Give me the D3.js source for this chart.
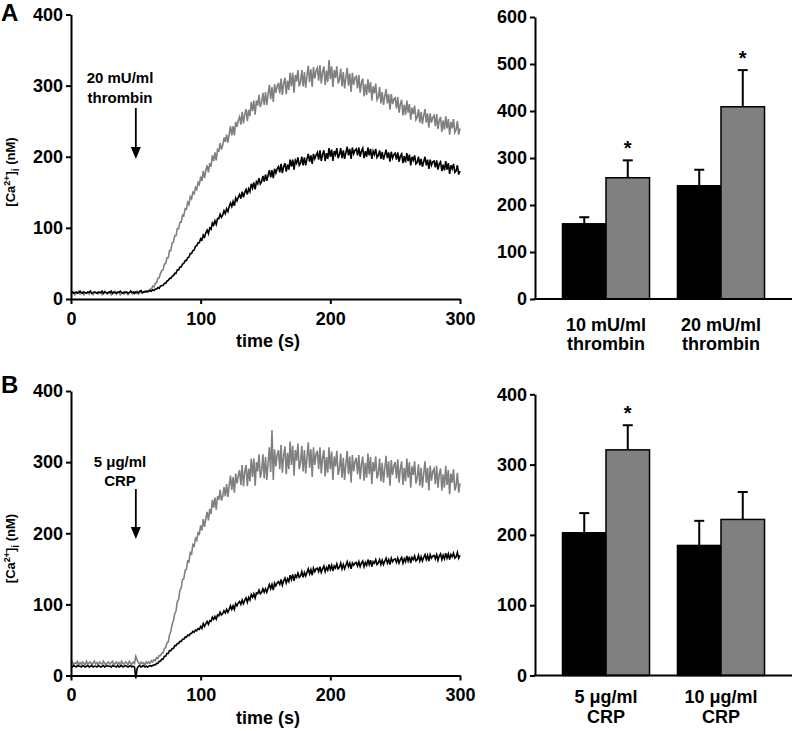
<!DOCTYPE html>
<html lang="en">
<head>
<meta charset="UTF-8">
<title>Ca2+ traces</title>
<script src="https://cdn.jsdelivr.net/npm/d3@7"></script>
<style>
  body { margin: 0; background: #fff; }
  text { font-family: "Liberation Sans", Arial, sans-serif; font-weight: bold; }
</style>
</head>
<body>
<div id="grafica"></div>
<script>
// sample times of the traces (s), one reading per second
times = d3.range(0, 301)

// panel A, 20 mU/ml thrombin (nM)
grayA = [7,9,10,6,8,9,11,7,8,10, 6,9,8,10,7,11,8,6,9,10, 8,7,10,9,6,8,11,9,7,8,
  10,6,9,8,11,7,9,10,6,8, 9,7,10,8,6,9,11,8,7,10, 8,11,7,9,10,8,9,11,10,12,
  11,14,14,18,17,22,23,29,30,36, 40,41,49,50,58,58,68,68,79,80, 89,89,99,99,108,108,118,117,127,126,
  136,133,144,141,150,148,157,154,164,161, 172,166,180,170,181,188,178,191,186,202,
  194,206,195,210,208,219,210,216,227,221, 231,220,232,243,230,243,230,249,242,251,
  256,245,263,247,260,267,250,266,257,277, 264,279,259,279,272,287,270,276,290,273,
  291,273,288,301,281,298,277,302,290,299, 304,289,310,287,303,311,288,307,294,318,
  299,318,290,315,306,322,299,305,322,299, 319,297,314,328,305,323,298,326,310,321,
  325,307,329,303,319,327,301,321,305,336, 309,327,298,322,311,327,303,308,324,299,
  319,296,311,325,300,317,291,318,301,311, 313,296,315,290,304,310,285,302,287,309,
  290,305,279,299,289,303,280,284,298,275, 291,273,285,295,275,288,266,288,274,281,
  283,268,284,262,274,280,258,273,259,279, 262,274,252,269,260,272,252,256,267,248,
  263,246,258,267,248,261,241,261,248,255, 258,243,260,239,251,256,235,251,238,257,
  240,253,231,249,240,253,234,238,250,231, 240]
blackA = [9,10,8,9,10,8,9,11,9,8, 10,9,8,10,9,11,8,9,10,9, 8,10,9,9,11,8,10,9,8,10,
  9,11,8,10,9,8,10,9,11,9, 8,10,9,10,8,9,11,9,10,8, 10,9,9,11,12,9,10,10,11,10,
  11,12,11,13,12,14,14,16,15,18, 19,19,22,22,25,26,29,29,32,33, 36,36,41,41,45,45,49,50,54,54,
  58,59,64,64,68,69,74,75,79,79, 85,83,90,87,93,97,92,100,98,107,
  104,110,105,113,113,119,115,118,124,120, 127,123,130,135,130,137,131,142,138,143,
  147,141,151,143,150,154,147,155,151,162, 156,164,154,165,162,170,162,165,173,165,
  175,166,174,181,171,181,170,183,177,183, 186,178,190,177,186,191,179,189,182,196,
  186,196,182,195,191,199,188,191,200,188, 199,188,197,204,193,202,190,204,197,202,
  206,196,209,194,203,209,194,205,197,212, 200,210,194,208,203,212,198,203,212,198,
  209,197,206,214,202,211,197,213,204,209, 211,202,213,200,208,212,198,208,200,213,
  202,211,197,208,203,211,199,202,209,197, 207,196,203,210,198,206,193,207,198,203,
  205,196,206,193,201,204,191,201,192,205, 194,203,188,200,195,202,190,192,200,188,
  197,186,193,200,188,196,183,196,188,193, 194,185,195,182,190,193,180,189,181,194,
  182,191,176,188,183,190,178,180,188,175, 180]

// panel B, 5 ug/ml CRP (nM)
grayB = [16,19,15,18,17,20,15,18,16,19, 17,15,20,16,18,19,15,17,20,16, 18,15,19,17,16,20,17,15,18,19,
  16,18,20,15,17,19,16,18,15,20, 17,16,19,18,15,20,17,16,19,17, 27,22,18,16,19,17,18,15,19,17,
  19,17,21,19,22,21,25,24,28,28, 31,32,38,39,46,47,57,62,72,77, 87,91,104,107,120,123,135,136,148,149,
  161,160,173,171,184,182,193,190,201,199, 211,204,220,209,221,230,218,234,227,247,
  236,250,233,252,247,261,246,252,265,252, 269,251,267,281,261,279,257,284,270,281,
  289,268,296,266,286,296,266,291,273,305, 279,305,267,300,287,311,278,287,311,277,
  307,275,299,321,286,345,275,318,294,310, 317,290,324,285,309,322,283,313,290,329,
  296,323,281,317,302,326,290,299,323,287, 317,284,307,328,292,318,279,321,296,311,
  316,290,321,284,306,317,280,307,285,321, 290,315,275,308,294,316,282,290,312,278,
  306,275,297,316,283,308,271,310,287,301, 306,283,310,276,297,308,274,299,278,312,
  283,307,269,300,287,308,277,284,305,273, 299,271,291,309,278,301,267,303,282,295,
  300,277,304,271,291,301,268,292,273,305, 278,300,264,294,282,301,270,278,297,267,
  292,264,284,301,271,292,260,295,274,287, 291,269,295,264,283,291,260,283,264,295,
  268,289,255,284,271,290,260,267,285,257, 270]
blackB = [13,12,14,13,12,14,13,13,12,14, 13,12,13,14,12,13,14,12,13,13, 12,14,13,12,13,14,12,13,14,13,
  13,12,14,13,13,12,14,12,13,14, 12,13,14,13,12,13,14,12,13,12, -4,10,13,14,12,13,14,12,13,12,
  13,14,13,14,15,15,17,17,20,20, 23,23,27,27,31,31,35,35,38,38, 42,42,45,45,48,48,51,51,54,54,
  57,56,59,59,62,61,64,63,66,65, 69,66,73,69,73,76,72,77,76,82,
  79,83,79,85,84,89,85,87,91,88, 93,89,93,98,93,98,93,101,98,102,
  104,100,106,101,106,109,103,110,106,114, 110,115,109,116,115,120,115,117,122,117,
  122,117,123,128,122,128,120,130,126,130, 132,128,135,127,133,137,130,136,132,141,
  135,142,133,141,138,144,138,140,146,138, 145,140,145,150,143,149,141,151,146,150,
  151,146,153,145,150,154,146,152,148,156, 149,155,147,154,151,157,150,152,158,150,
  156,150,155,160,153,158,150,158,155,158, 159,154,160,153,158,161,153,159,155,163,
  156,162,153,160,158,163,156,158,163,156, 162,156,161,165,158,163,156,165,160,163,
  164,159,165,158,163,166,158,164,160,168, 161,167,158,166,163,168,161,163,169,161,
  167,161,166,170,163,169,161,170,165,168, 169,164,170,162,168,171,163,169,164,172,
  165,171,163,170,167,172,165,167,173,165, 169]

// bar panels: mean and top of error bar (nM)
barCatsA  = [['10 mU/ml', 'thrombin'], ['20 mU/ml', 'thrombin']]
barBlackA = [160, 241]
barGrayA  = [258, 409]
errBlackA = [174, 275]
errGrayA  = [295, 487]
sigA      = [true, true]

barCatsB  = [['5 μg/ml', 'CRP'], ['10 μg/ml', 'CRP']]
barBlackB = [203, 185]
barGrayB  = [321, 222]
errBlackB = [231, 220]
errGrayB  = [356, 261]
sigB      = [true, false]

gris = '#808080'

svg = d3.select('#grafica')
  .append('svg')
  .attr('width', 793)
  .attr('height', 731)

function styleAxis(sel) {
  sel.selectAll('text').attr('font-size', 18).attr('fill', '#000')
  sel.selectAll('path, line').attr('stroke', '#000').attr('stroke-width', 2)
}

function trazas(p) {
  x = d3.scaleLinear().domain([0, 300]).range([71, 460])
  y = d3.scaleLinear().domain([0, 400]).range([p.y0, p.y0 - 284.5])

  linea = d3.line()
    .x((d, i) => x(times[i]))
    .y((d) => y(d))

  svg.append('path')
    .datum(p.gray)
    .attr('d', linea)
    .attr('fill', 'none')
    .attr('stroke', gris)
    .attr('stroke-width', 1.6)

  svg.append('path')
    .datum(p.black)
    .attr('d', linea)
    .attr('fill', 'none')
    .attr('stroke', '#000')
    .attr('stroke-width', 1.6)

  svg.append('g')
    .attr('transform', `translate(0, ${p.y0})`)
    .call(d3.axisBottom(x).tickValues([0, 100, 200, 300]).tickSize(5).tickSizeOuter(0).tickPadding(8))
    .call(styleAxis)

  svg.append('g')
    .attr('transform', 'translate(71, 0)')
    .call(d3.axisLeft(y).tickValues([0, 100, 200, 300, 400]).tickSize(5).tickSizeOuter(0).tickPadding(3))
    .call(styleAxis)

  svg.append('text')
    .attr('x', 268).attr('y', p.y0 + 48)
    .attr('text-anchor', 'middle')
    .attr('font-size', 18)
    .text('time (s)')

  // y label [Ca2+]i (nM)
  lab = svg.append('text')
    .attr('transform', `translate(15, ${p.y0 - 127}) rotate(-90)`)
    .attr('text-anchor', 'middle')
    .attr('font-size', 13)
  lab.append('tspan').text('[Ca')
  lab.append('tspan').attr('dy', -5).attr('font-size', 9).text('2+')
  lab.append('tspan').attr('dy', 5).text(']')
  lab.append('tspan').attr('dy', 4).attr('font-size', 10).text('i')
  lab.append('tspan').attr('dy', -4).text(' (nM)')

  // stimulus annotation and arrow
  p.nota.forEach((s, i) => {
    svg.append('text')
      .attr('x', 120).attr('y', p.notaY[i])
      .attr('text-anchor', 'middle')
      .attr('font-size', 15)
      .text(s)
  })
  svg.append('line')
    .attr('x1', x(50)).attr('x2', x(50))
    .attr('y1', p.flecha[0]).attr('y2', p.flecha[1] - 10)
    .attr('stroke', '#000').attr('stroke-width', 1.8)
  svg.append('path')
    .attr('d', `M${x(50) - 5},${p.flecha[1] - 12}L${x(50) + 5},${p.flecha[1] - 12}L${x(50)},${p.flecha[1]}Z`)
    .attr('fill', '#000')

  svg.append('text')
    .attr('x', 1).attr('y', p.letraY)
    .attr('font-size', 24)
    .text(p.letra)
}

function barras(p) {
  y = d3.scaleLinear().domain([0, p.max]).range([p.y0, p.yTop])
  x = d3.scaleBand()
    .domain(d3.range(p.cats.length))
    .range([535, 792])
    .paddingInner(0.243)
    .paddingOuter(0.239)
  xs = d3.scaleBand().domain(['black', 'gray']).range([0, x.bandwidth()])

  series = [
    {key: 'black', vals: p.black, err: p.errBlack, fill: '#000'},
    {key: 'gray', vals: p.gray, err: p.errGray, fill: gris}
  ]

  series.forEach((s) => {
    cx = (i) => x(i) + xs(s.key) + xs.bandwidth() / 2
    // error bars (upper half only)
    svg.selectAll(null)
      .data(s.vals)
      .enter()
      .append('line')
        .attr('x1', (d, i) => cx(i)).attr('x2', (d, i) => cx(i))
        .attr('y1', (d) => y(d)).attr('y2', (d, i) => y(s.err[i]))
        .attr('stroke', '#000').attr('stroke-width', 2)
    svg.selectAll(null)
      .data(s.err)
      .enter()
      .append('line')
        .attr('x1', (d, i) => cx(i) - 5).attr('x2', (d, i) => cx(i) + 5)
        .attr('y1', (d) => y(d)).attr('y2', (d) => y(d))
        .attr('stroke', '#000').attr('stroke-width', 2)
    svg.selectAll(null)
      .data(s.vals)
      .enter()
      .append('rect')
        .attr('x', (d, i) => x(i) + xs(s.key))
        .attr('y', (d) => y(d))
        .attr('width', xs.bandwidth())
        .attr('height', (d) => p.y0 - y(d))
        .attr('fill', s.fill)
        .attr('stroke', '#000')
        .attr('stroke-width', 1.5)
  })

  // significance stars
  p.sig.forEach((d, i) => {
    if (!d) return
    svg.append('text')
      .attr('x', x(i) + xs('gray') + xs.bandwidth() / 2)
      .attr('y', y(p.errGray[i]) - 5)
      .attr('text-anchor', 'middle')
      .attr('font-size', 20)
      .text('*')
  })

  svg.append('g')
    .attr('transform', 'translate(535, 0)')
    .call(d3.axisLeft(y).ticks(p.max / 100).tickSize(5).tickSizeOuter(0).tickPadding(3))
    .call(styleAxis)

  svg.append('line')
    .attr('x1', 534).attr('x2', 792)
    .attr('y1', p.y0).attr('y2', p.y0)
    .attr('stroke', '#000').attr('stroke-width', 2)

  p.cats.forEach((c, i) => {
    c.forEach((s, j) => {
      svg.append('text')
        .attr('x', x(i) + x.bandwidth() / 2)
        .attr('y', p.labY[j])
        .attr('text-anchor', 'middle')
        .attr('font-size', 18)
        .text(s)
    })
  })
}

trazas({y0: 299, gray: grayA, black: blackA, letra: 'A', letraY: 21,
  nota: ['20 mU/ml', 'thrombin'], notaY: [83, 103], flecha: [108, 159]})
trazas({y0: 675.5, gray: grayB, black: blackB, letra: 'B', letraY: 393,
  nota: ['5 μg/ml', 'CRP'], notaY: [467, 486], flecha: [489, 539]})

barras({y0: 299, yTop: 17, max: 600, cats: barCatsA, black: barBlackA, gray: barGrayA,
  errBlack: errBlackA, errGray: errGrayA, sig: sigA, labY: [331, 350]})
barras({y0: 675.5, yTop: 394.3, max: 400, cats: barCatsB, black: barBlackB, gray: barGrayB,
  errBlack: errBlackB, errGray: errGrayB, sig: sigB, labY: [703, 723]})
</script>
</body>
</html>
